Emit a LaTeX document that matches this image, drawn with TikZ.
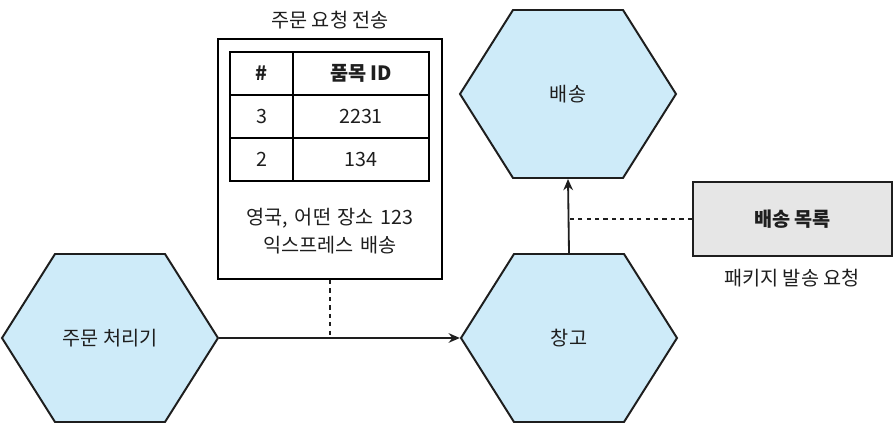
\documentclass[tikz,border=0pt]{standalone}
\usepackage{fontspec}
\setmainfont{Noto Sans CJK KR}
\usepackage{tikz}
\usetikzlibrary{shapes.symbols, arrows.meta, positioning, calc}
\definecolor{hexblue}{RGB}{206, 235, 249}
\definecolor{listgray}{RGB}{230, 230, 230}
\definecolor{inkgray}{RGB}{30, 30, 30}

\begin{document}
\begin{tikzpicture}[
        hexnode/.style={signal, signal to=east and west, signal pointer angle=115.5, draw=inkgray, fill=hexblue, line width=1.4pt, minimum width=5.4cm, minimum height=4.2cm, inner sep=0pt, font=\fontsize{14}{17}\selectfont, text=inkgray},
        msgbox/.style={rectangle, draw=black, fill=white, line width=1.5pt, minimum width=5.6cm, minimum height=6.0cm},
        cell/.style={rectangle, draw=black, line width=1.6pt, minimum height=1.075cm, inner sep=0pt, font=\fontsize{14}{17}\selectfont, text=inkgray},
        listbox/.style={rectangle, draw=inkgray, fill=listgray, line width=1.5pt, minimum width=4.975cm, minimum height=1.85cm, font=\fontsize{14}{17}\selectfont\bfseries, text=inkgray},
        lbl/.style={font=\fontsize{14}{20}\selectfont, text=inkgray, align=center}
    ]
        \useasboundingbox (0,0) rectangle (22.4,11);

        % Hexagon services
        \node[hexnode] (proc) at (2.75, 2.55) {주문 처리기};
        \node[hexnode] (wh) at (14.225, 2.55) {창고};
        \node[hexnode] (ship) at (14.2, 8.65) {배송};

        % Order request message
        \node[lbl] (msgtitle) at (8.25, 10.5) {주문 요청 전송};
        \node[msgbox] (msg) at (8.25, 7.025) {};

        \node[cell, minimum width=1.575cm, font=\fontsize{14}{17}\selectfont\bfseries] (h1) at (6.5375, 9.1625) {\#};
        \node[cell, minimum width=3.4cm, font=\fontsize{14}{17}\selectfont\bfseries] (h2) at (9.025, 9.1625) {품목 ID};
        \node[cell, minimum width=1.575cm] (r1a) at (6.5375, 8.0875) {3};
        \node[cell, minimum width=3.4cm] (r1b) at (9.025, 8.0875) {2231};
        \node[cell, minimum width=1.575cm] (r2a) at (6.5375, 7.0125) {2};
        \node[cell, minimum width=3.4cm] (r2b) at (9.025, 7.0125) {134};

        \node[lbl, text width=5.2cm] (addr) at (8.25, 5.225) {영국, 어떤 장소 123\\익스프레스 배송};

        % Shipping list message
        \node[listbox] (list) at (19.8125, 5.525) {배송 목록};
        \node[lbl] (listlbl) at (19.8, 4.05) {패키지 발송 요청};

        % Connectors
        \draw[-{Stealth[length=2.8mm, width=2.4mm]}, line width=1.3pt, color=inkgray] (proc.east) -- (wh.west);
        \draw[-{Stealth[length=2.8mm, width=2.4mm]}, line width=1.3pt, color=inkgray] (wh.north) -- (ship.south);
        \draw[dashed, line width=1.3pt, color=inkgray] (msg.south) -- (msg.south |- proc.east);
        \draw[dashed, line width=1.3pt, color=inkgray] (list.west) -- (list.west -| wh.north);
    \end{tikzpicture}
\end{document}
